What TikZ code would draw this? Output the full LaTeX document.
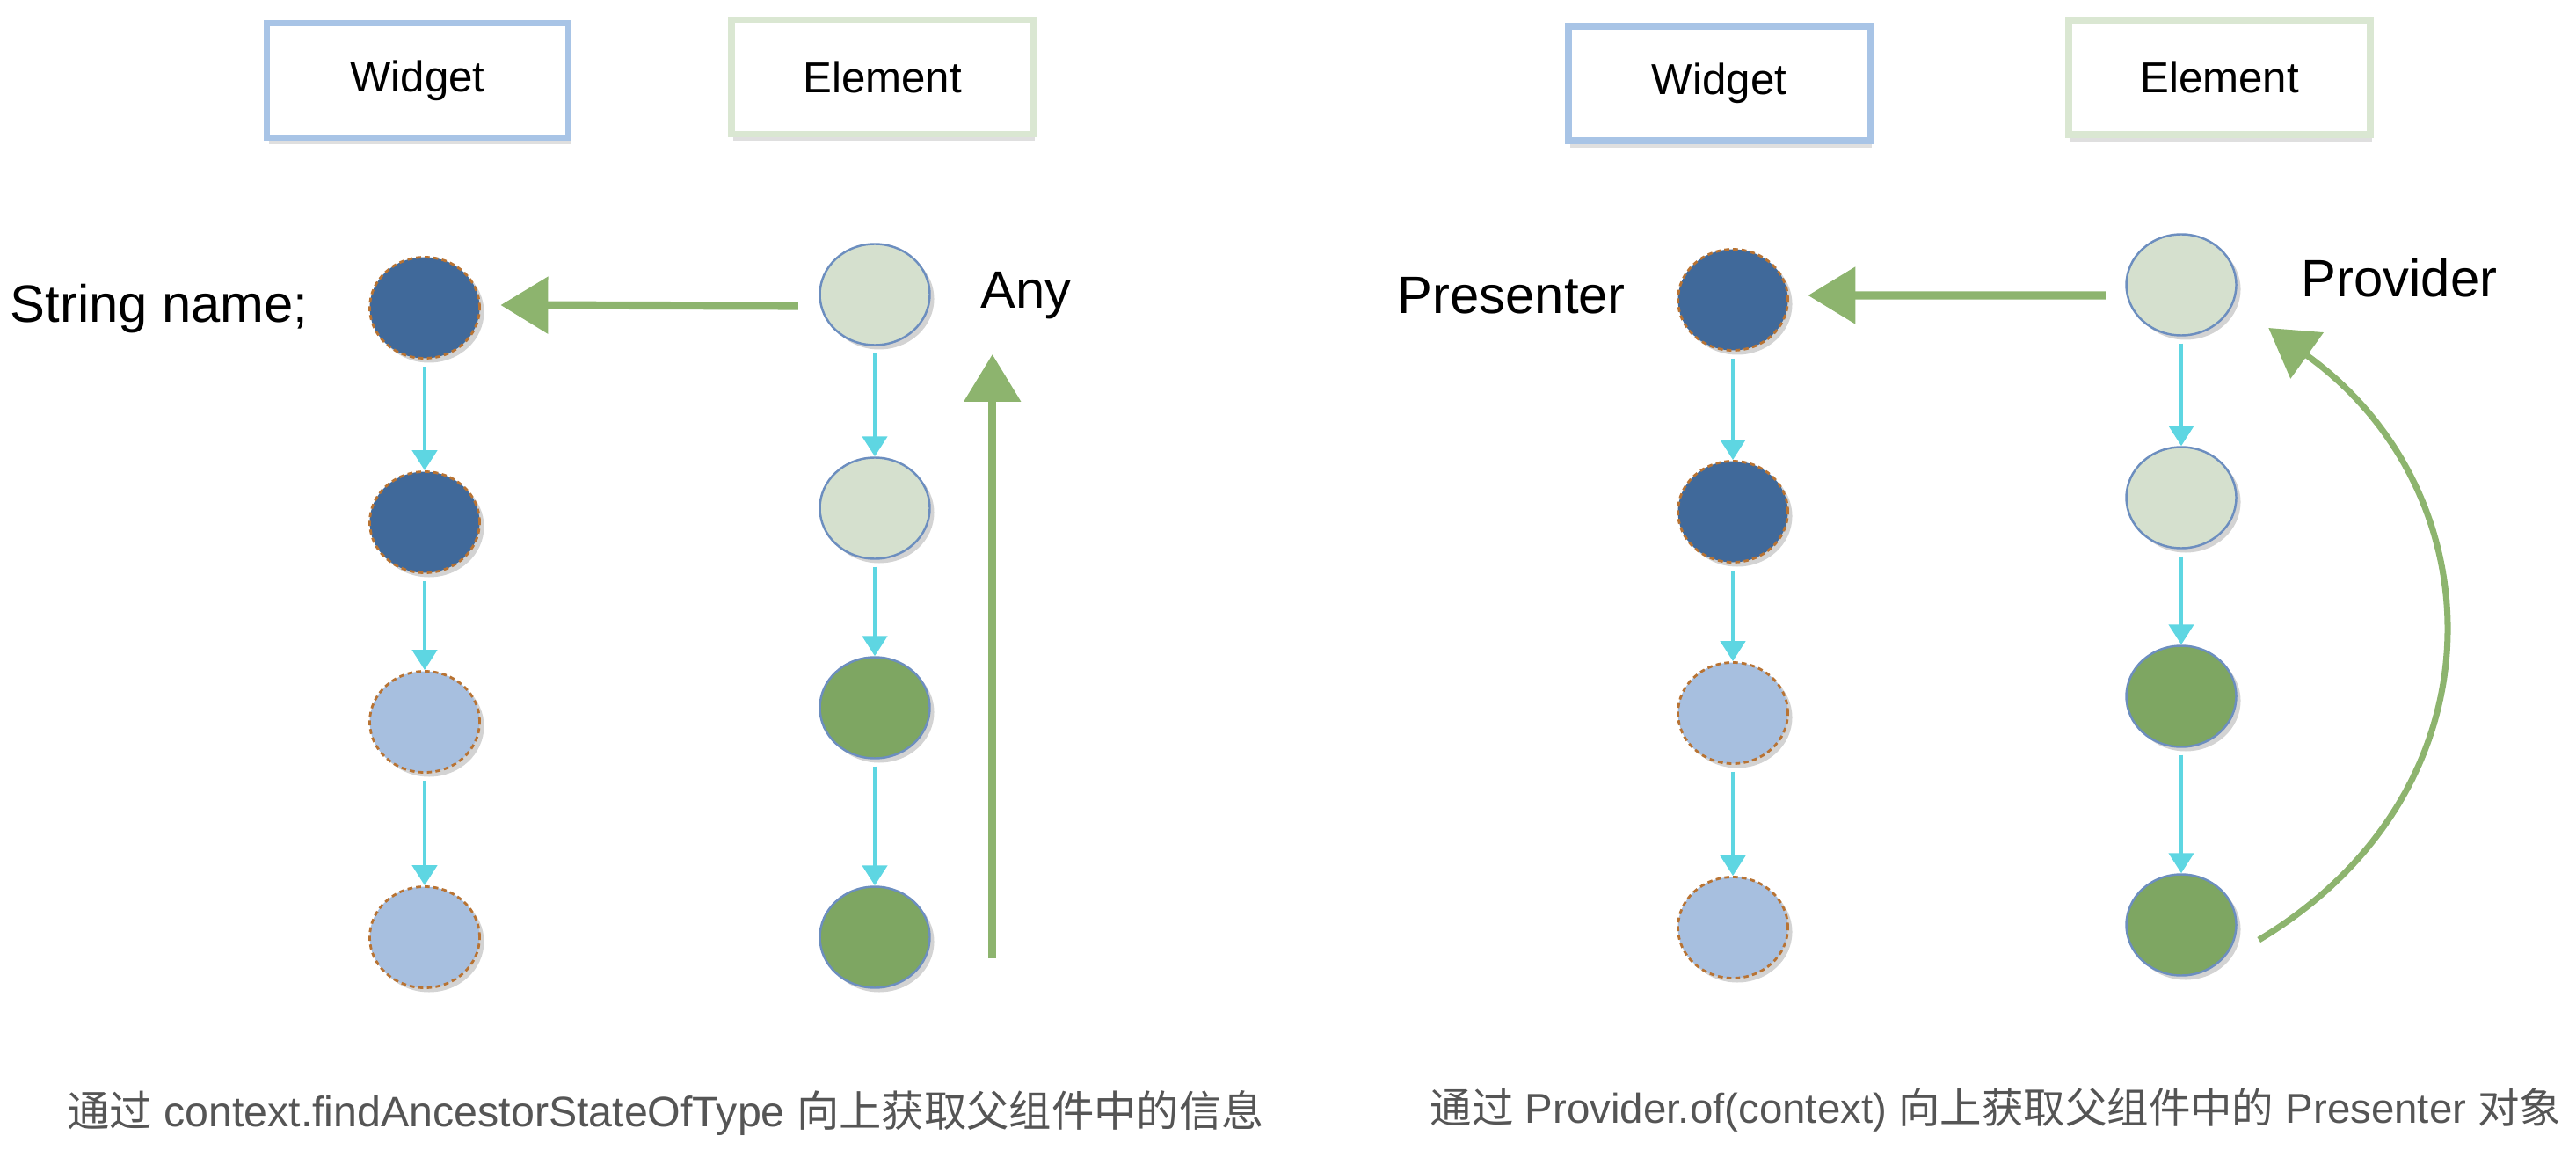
\documentclass[tikz,border=0pt]{standalone}
\usepackage{fontspec}
\setmainfont{Liberation Sans}
\newfontfamily\cjk{Noto Sans CJK SC}
\usetikzlibrary{shapes.geometric,arrows.meta,shadows}

\definecolor{widgetblue}{RGB}{168,196,230}
\definecolor{elemgreen}{RGB}{218,231,210}
\definecolor{darkblue}{RGB}{64,105,154}
\definecolor{lightblue}{RGB}{167,191,223}
\definecolor{palegreen}{RGB}{213,224,206}
\definecolor{leafgreen}{RGB}{126,166,98}
\definecolor{dashbrown}{RGB}{184,115,51}
\definecolor{rimblue}{RGB}{108,142,191}
\definecolor{linkcyan}{RGB}{94,214,226}
\definecolor{pullgreen}{RGB}{141,180,110}
\definecolor{notegray}{RGB}{85,85,85}

\tikzset{
  headbox/.style={rectangle, draw, line width=2.2pt, fill=white, minimum width=3.43cm, minimum height=1.3cm,
    font=\fontsize{14}{16}\selectfont,
    drop shadow={shadow xshift=0.02cm, shadow yshift=-0.08cm, opacity=0.25}},
  treenode/.style={ellipse, inner sep=0pt, minimum width=1.25cm, minimum height=1.15cm,
    drop shadow={shadow xshift=0.05cm, shadow yshift=-0.05cm, opacity=0.35}},
  widnode/.style={treenode, draw=dashbrown, line width=0.8pt, dash pattern=on 1.6pt off 1.2pt},
  elemnode/.style={treenode, draw=rimblue, line width=0.7pt},
  downlink/.style={draw=linkcyan, line width=1.3pt, shorten <=0.08cm,
    -{Triangle[length=0.23cm, width=0.28cm]}},
  pullarrow/.style={draw=pullgreen, line width=2.6pt,
    -{Triangle[length=0.54cm, width=0.63cm]}},
  sidelabel/.style={anchor=base west, inner sep=0pt, font=\fontsize{17}{20}\selectfont},
  notelabel/.style={text=notegray, inner sep=0pt}
}

\begin{document}
\begin{tikzpicture}
    \useasboundingbox (0, 0) rectangle (29.30, -13.08);

    \node[headbox, draw=widgetblue] (lwid) at (4.75, -0.915) {Widget};
    \node[headbox, draw=elemgreen] (lelem) at (10.035, -0.875) {Element};
    \node[headbox, draw=widgetblue] (rwid) at (19.555, -0.95) {Widget};
    \node[headbox, draw=elemgreen] (relem) at (25.245, -0.88) {Element};

    \node[widnode, fill=darkblue] (lw1) at (4.83, -3.50) {};
    \node[widnode, fill=darkblue] (lw2) at (4.83, -5.94) {};
    \node[widnode, fill=lightblue] (lw3) at (4.83, -8.21) {};
    \node[widnode, fill=lightblue] (lw4) at (4.83, -10.66) {};

    \node[elemnode, fill=palegreen] (le1) at (9.95, -3.35) {};
    \node[elemnode, fill=palegreen] (le2) at (9.95, -5.78) {};
    \node[elemnode, fill=leafgreen] (le3) at (9.95, -8.05) {};
    \node[elemnode, fill=leafgreen] (le4) at (9.95, -10.66) {};

    \node[widnode, fill=darkblue] (rw1) at (19.71, -3.41) {};
    \node[widnode, fill=darkblue] (rw2) at (19.71, -5.82) {};
    \node[widnode, fill=lightblue] (rw3) at (19.71, -8.11) {};
    \node[widnode, fill=lightblue] (rw4) at (19.71, -10.55) {};

    \node[elemnode, fill=palegreen] (re1) at (24.81, -3.24) {};
    \node[elemnode, fill=palegreen] (re2) at (24.81, -5.66) {};
    \node[elemnode, fill=leafgreen] (re3) at (24.81, -7.92) {};
    \node[elemnode, fill=leafgreen] (re4) at (24.81, -10.52) {};

    \node[sidelabel] (strname) at (0.11, -3.67) {String name;};
    \node[sidelabel] (anylbl) at (11.15, -3.51) {Any};
    \node[sidelabel] (presenter) at (15.89, -3.57) {Presenter};
    \node[sidelabel] (provider) at (26.17, -3.38) {Provider};

    \node[notelabel, font=\fontsize{13.75}{16}\selectfont] (lnote) at (7.57, -12.66)
        {{\cjk 通过} context.findAncestorStateOfType {\cjk 向上获取父组件中的信息}};
    \node[notelabel, font=\fontsize{13.5}{16}\selectfont] (rnote) at (22.70, -12.62)
        {{\cjk 通过} Provider.of(context) {\cjk 向上获取父组件中的} Presenter {\cjk 对象}};

    \draw[downlink] (lw1) -- (lw2);
    \draw[downlink] (lw2) -- (lw3);
    \draw[downlink] (lw3) -- (lw4);
    \draw[downlink] (le1) -- (le2);
    \draw[downlink] (le2) -- (le3);
    \draw[downlink] (le3) -- (le4);
    \draw[downlink] (rw1) -- (rw2);
    \draw[downlink] (rw2) -- (rw3);
    \draw[downlink] (rw3) -- (rw4);
    \draw[downlink] (re1) -- (re2);
    \draw[downlink] (re2) -- (re3);
    \draw[downlink] (re3) -- (re4);

    \draw[pullarrow] ([xshift=-0.235cm, yshift=-0.13cm]le1.west) -- ([xshift=0.225cm, yshift=0.03cm]lw1.east);
    \draw[pullarrow] ([xshift=0.70cm, yshift=-0.24cm]le4.east) -- ([xshift=0.70cm, yshift=-0.68cm]le1.east);
    \draw[pullarrow] ([xshift=-0.225cm, yshift=-0.12cm]re1.west) -- ([xshift=0.215cm, yshift=0.05cm]rw1.east);
    \draw[pullarrow, line width=2pt] ([xshift=0.245cm, yshift=-0.17cm]re4.east)
        .. controls +(2.82, 1.69) and +(2.61, -1.87) .. ([xshift=0.355cm, yshift=-0.49cm]re1.east);
\end{tikzpicture}
\end{document}
